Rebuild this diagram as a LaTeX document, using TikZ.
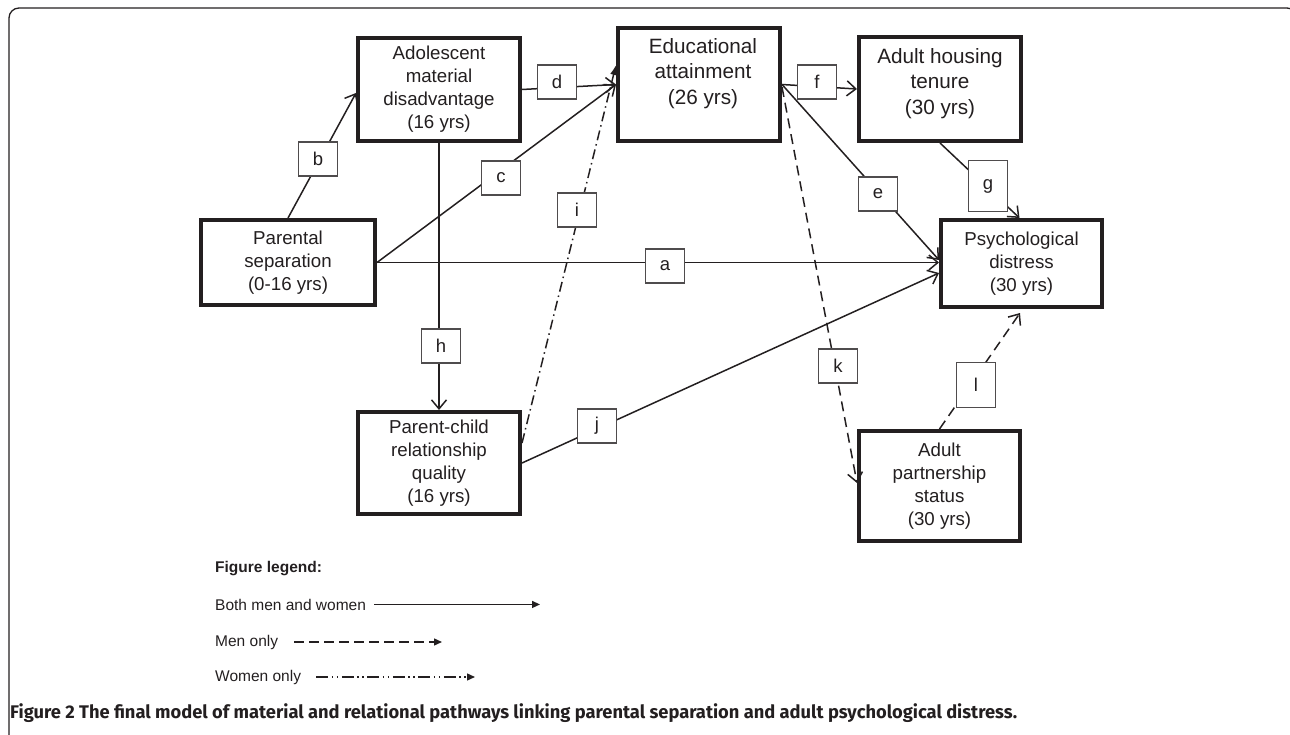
\documentclass[tikz,border=0pt]{standalone}
\usepackage{fontspec}
\setmainfont{Liberation Sans}
\newfontfamily\capfont{Fira Sans}
\usetikzlibrary{arrows.meta,calc}
\definecolor{ink}{HTML}{231F20}
\begin{document}
\begin{tikzpicture}[x=1pt,y=-1pt,
  box/.style={draw=ink, line width=4pt, fill=white, inner sep=0pt, align=center, text=ink,
              font=\fontsize{18.7}{23}\selectfont},
  txtbig/.style={inner sep=0pt, align=center, text=ink, font=\fontsize{20.7}{25.5}\selectfont},
  lbl/.style={draw=ink!80, line width=1.2pt, fill=white, minimum width=39pt, minimum height=34pt,
              inner sep=0pt, text=ink, font=\fontsize{18.5}{20}\selectfont},
  conn/.style={draw=ink, line width=1.5pt, -{Straight Barb[length=9pt,width=15pt,line width=1.5pt]}},
  men/.style={dash pattern=on 10pt off 6pt},
  women/.style={dash pattern=on 10pt off 4pt on 1.5pt off 4pt},
  legfont/.style={inner sep=0pt, text=ink, font=\fontsize{15.5}{18}\selectfont},
  legarrow/.style={draw=ink, line width=1.4pt, -{Triangle[length=8pt,width=7pt]}}
]
\useasboundingbox (0,0) rectangle (1290,735);
\clip (0,0) rectangle (1290,735);
% outer frame
\draw[ink, line width=1.3pt, rounded corners=10pt] (9,780) -- (9,8) -- (1297,8) -- (1297,780);

% main boxes
\node[box, minimum width=162pt, minimum height=103pt] (adol) at (439,89.5)
  {Adolescent\\material\\disadvantage\\(16 yrs)};
\node[box, minimum width=162pt, minimum height=113pt] (edu) at (699,84.5) {};
\node[txtbig] (edut) at (703,73.5) {Educational\\attainment\\(26 yrs)};
\node[box, minimum width=162pt, minimum height=104pt] (house) at (940,89) {};
\node[txtbig] (houset) at (940,83.5) {Adult housing\\tenure\\(30 yrs)};
\node[box, minimum width=174pt, minimum height=85pt] (ps) at (288,262.5)
  {Parental\\separation\\(0-16 yrs)};
\node[box, minimum width=161pt, minimum height=87pt] (psy) at (1021.5,263.5)
  {Psychological\\distress\\(30 yrs)};
\node[box, minimum width=162pt, minimum height=102pt] (pc) at (439,463)
  {Parent-child\\relationship\\quality\\(16 yrs)};
\node[box, minimum width=161pt, minimum height=110pt] (part) at (939.5,486)
  {Adult\\partnership\\status\\(30 yrs)};

% connectors
\draw[conn] (ps.east) -- ($(psy.west)+(0,-1)$);                         % a
\draw[conn] (ps.north) -- ($(adol.west)+(0,3.5)$);                      % b
\draw[conn] (ps.east) -- (edu.west);                                    % c
\draw[conn] (adol.east) -- (edu.west);                                  % d
\draw[conn] (edu.east) -- ($(psy.west)+(0,-3.5)$);                      % e
\draw[conn] (edu.east) -- (house.west);                                 % f
\draw[conn] (house.south) -- ($(psy.north)+(-2,0)$);                    % g
\draw[conn] (adol.south) -- (pc.north);                                 % h
\draw[draw=ink, line width=1.5pt, women, -{Latex[length=10pt,width=7pt]}]
  ($(pc.north east)+(0,33)$) -- ($(edu.north west)+(0,39)$);            % i
\draw[conn] (pc.east) -- ($(psy.west)+(0,9.5)$);                        % j
\draw[conn, men] ($(edu.east)+(0,2.5)$) -- ($(part.west)+(0,-3)$);      % k
\draw[conn, men] (part.north) -- ($(psy.south)+(-1.5,4)$);              % l

% path labels
\node[lbl] (la) at (665,266) {a};
\node[lbl] (lb) at (318,159) {b};
\node[lbl] (lc) at (501,178) {c};
\node[lbl] (ld) at (557,82) {d};
\node[lbl] (le) at (878,194) {e};
\node[lbl] (lf) at (817,82) {f};
\node[lbl, minimum height=51pt] (lg) at (988,186) {g};
\node[lbl] (lh) at (441,346) {h};
\node[lbl] (li) at (577,210) {i};
\node[lbl] (lj) at (597,426) {j};
\node[lbl] (lk) at (838,366) {k};
\node[lbl, minimum height=45pt] (ll) at (976,385) {l};

% legend
\node[legfont, anchor=base west, font=\bfseries\fontsize{15.5}{18}\selectfont] (legt) at (215,572) {Figure legend:};
\node[legfont, anchor=base west] (leg1) at (215,610) {Both men and women};
\node[legfont, anchor=base west] (leg2) at (215,646) {Men only};
\node[legfont, anchor=base west] (leg3) at (215,681) {Women only};
\coordinate (e1) at (540,0);
\coordinate (e2) at (442,0);
\coordinate (e3) at (475,0);
\draw[legarrow] ($(leg1.east)+(8,0)$) -- (leg1.east -| e1);
\draw[legarrow, dash pattern=on 10pt off 5pt] ($(leg2.east)+(16,0)$) -- (leg2.east -| e2);
\draw[legarrow, dash pattern=on 12pt off 3.5pt on 1.5pt off 3.5pt on 1.5pt off 3.5pt] ($(leg3.east)+(15,0)$) -- (leg3.east -| e3);

% caption
\node[anchor=base west, inner sep=0pt, text=ink, font=\capfont\bfseries\fontsize{18.3}{20}\selectfont] (cap) at (10,718)
  {Figure 2 The final model of material and relational pathways linking parental separation and adult psychological distress.};
\end{tikzpicture}
\end{document}
